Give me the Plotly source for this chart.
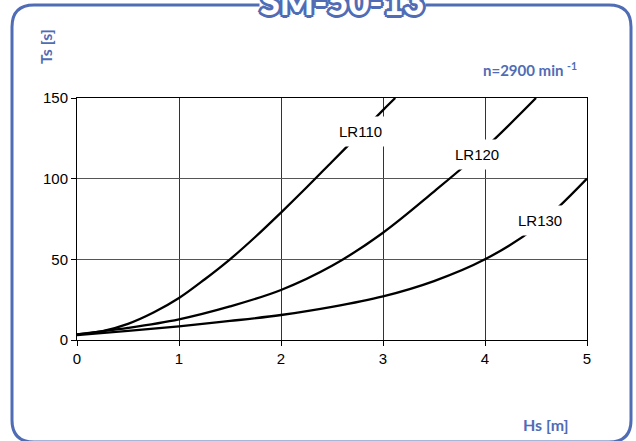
import plotly.graph_objects as go

# ---- data ----
hs_lr110 = [0, 0.25, 0.5, 0.75, 1.0, 1.25, 1.5, 1.75, 2.0, 2.25, 2.5, 2.75, 3.0, 3.12]
ts_lr110 = [3.5, 5.5, 10, 17, 26, 37.5, 50, 64, 79, 94.5, 110.5, 126.5, 142.5, 150]

hs_lr120 = [0, 0.5, 1.0, 1.5, 2.0, 2.5, 3.0, 3.5, 4.0, 4.5]
ts_lr120 = [3.5, 7.5, 12.8, 20.8, 31, 46, 66.5, 92, 119, 150]

hs_lr130 = [0, 0.5, 1.0, 1.5, 2.0, 2.5, 3.0, 3.5, 4.0, 4.5, 5.0]
ts_lr130 = [3, 5.7, 8.5, 11.8, 15.5, 20.5, 27, 36.5, 50, 70, 100]

series_names = ["LR110", "LR120", "LR130"]
label_x = [2.78, 3.92, 4.54]
label_y = [129, 115, 74]

x_ticks = [0, 1, 2, 3, 4, 5]
y_ticks = [0, 50, 100, 150]

title_text = "SM-50-13"
x_title = "Hs [m]"
y_title = "Ts [s]"
speed_text = "n=2900 min <sup>-1</sup>"

BLUE = "#4f6cb5"

fig = go.Figure()
for xs, ys in [(hs_lr110, ts_lr110), (hs_lr120, ts_lr120), (hs_lr130, ts_lr130)]:
    fig.add_trace(go.Scatter(x=xs, y=ys, mode="lines",
                             line=dict(color="black", width=2.3, shape="spline", smoothing=1.0),
                             showlegend=False, hoverinfo="skip", cliponaxis=True))

W, H = 636, 441
L, R, T, B = 77, 49, 98, 101
pw, ph = W - L - R, H - T - B

def px(xp):
    return (xp - L) / pw

def py(yp):
    return (H - B - yp) / ph

annotations = []
for name, lx, ly in zip(series_names, label_x, label_y):
    annotations.append(dict(x=lx, y=ly, xref="x", yref="y", text=name, showarrow=False,
                            font=dict(family="Liberation Sans, Arial", size=15, color="black"),
                            bgcolor="white", borderpad=6))

shadow = ", ".join(f"{dx}px {dy}px 0 {BLUE}" for dx, dy in
                   [(2, 0), (-2, 0), (0, 2), (0, -2), (2, 2), (-2, -2), (2, -2), (-2, 2),
                    (3, 0), (-3, 0), (0, 3), (0, -3)])
annotations += [
    dict(x=px(342), y=py(1), xref="paper", yref="paper", text=title_text,
         showarrow=False, xanchor="center", yanchor="middle", bgcolor="white", borderpad=0,
         font=dict(family="Lato, Noto Sans", size=36, weight=900, color="white", shadow=shadow)),
    dict(x=px(46), y=py(47), xref="paper", yref="paper", text="<b>" + y_title + "</b>",
         showarrow=False, textangle=-90, xanchor="center", yanchor="middle",
         font=dict(family="Lato, Noto Sans", size=16, color=BLUE)),
    dict(x=px(579), y=py(70), xref="paper", yref="paper", text="<b>" + speed_text + "</b>",
         showarrow=False, xanchor="right", yanchor="middle",
         font=dict(family="Lato, Noto Sans", size=15, color=BLUE)),
    dict(x=px(546), y=py(424), xref="paper", yref="paper", text="<b>" + x_title + "</b>",
         showarrow=False, xanchor="center", yanchor="middle",
         font=dict(family="Lato, Noto Sans", size=16, color=BLUE)),
]

# rounded blue frame
x0, x1, y0, y1, r = 12, 631, 5, 442, 22
rx, ry = r / pw, r / ph
path = (f"M {px(x0)},{py(y0) - ry} "
        f"Q {px(x0)},{py(y0)} {px(x0) + rx},{py(y0)} "
        f"L {px(x1) - rx},{py(y0)} "
        f"Q {px(x1)},{py(y0)} {px(x1)},{py(y0) - ry} "
        f"L {px(x1)},{py(y1) + ry} "
        f"Q {px(x1)},{py(y1)} {px(x1) - rx},{py(y1)} "
        f"L {px(x0) + rx},{py(y1)} "
        f"Q {px(x0)},{py(y1)} {px(x0)},{py(y1) + ry} Z")

fig.update_layout(
    width=W, height=H,
    margin=dict(l=L, r=R, t=T, b=B),
    paper_bgcolor="white", plot_bgcolor="white",
    shapes=[dict(type="path", path=path, xref="paper", yref="paper",
                 line=dict(color=BLUE, width=3), layer="below")],
    annotations=annotations,
)
axis_font = dict(family="Liberation Sans, Arial", size=15, color="black")
fig.update_xaxes(range=[0, 5], tickvals=x_ticks, showgrid=True, gridcolor="#333", gridwidth=1,
                 showline=True, linecolor="black", linewidth=1, mirror=True,
                 ticks="outside", ticklen=5, tickcolor="black", tickfont=axis_font,
                 zeroline=False, fixedrange=True)
fig.update_yaxes(range=[0, 150], tickvals=y_ticks, showgrid=True, gridcolor="#555", gridwidth=1,
                 showline=True, linecolor="black", linewidth=1, mirror=True,
                 ticks="outside", ticklen=5, tickcolor="black", tickfont=axis_font,
                 zeroline=False, fixedrange=True)

fig.write_html("out.html", config={"displayModeBar": False},
               post_script="document.body.style.margin='0';document.body.style.overflow='hidden';")
